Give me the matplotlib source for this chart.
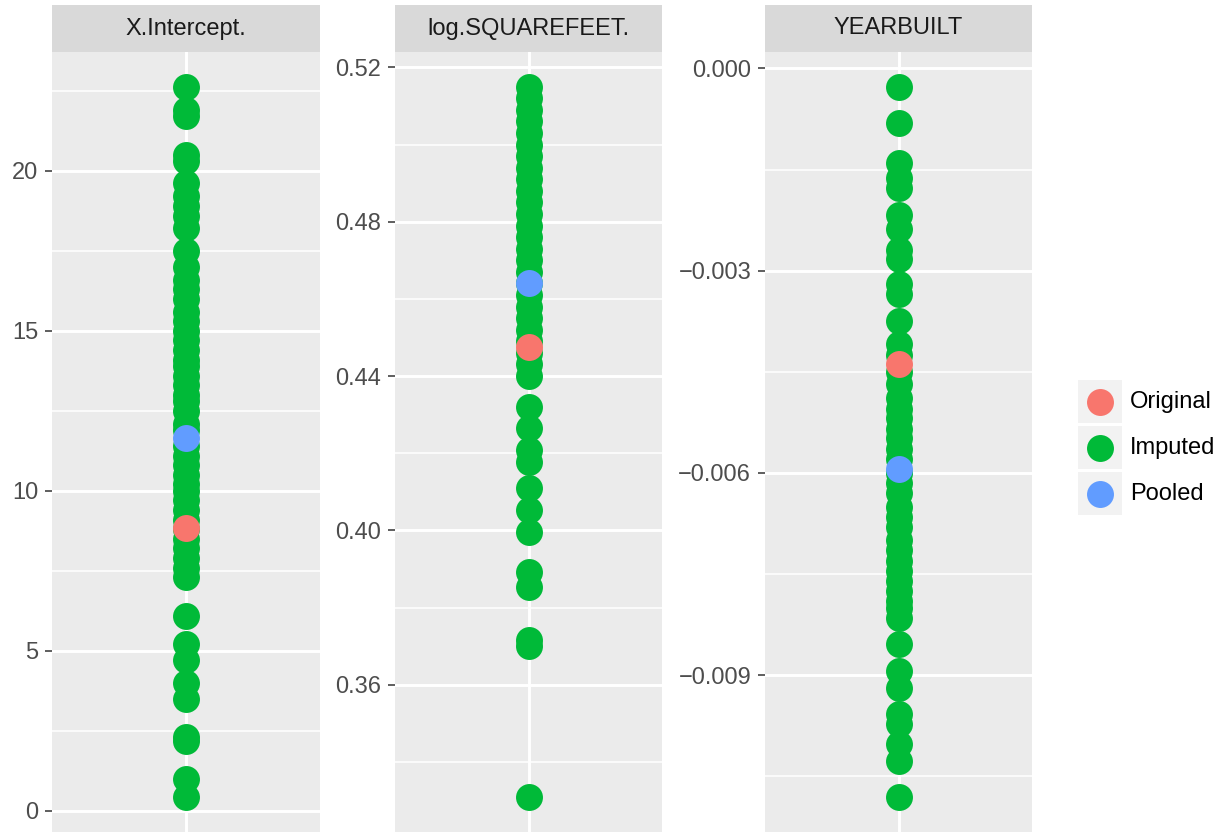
import matplotlib
matplotlib.use("Agg")
import matplotlib.pyplot as plt
from matplotlib.patches import Rectangle

plt.rcParams['font.family'] = ['Liberation Sans', 'DejaVu Sans']

# Coefficient estimates per term
panel_titles = ["X.Intercept.", "log.SQUAREFEET.", "YEARBUILT"]

intercept_imputed = [22.6, 21.9, 21.7, 20.5, 20.3, 19.6, 19.2, 18.9, 18.6, 18.2,
                     17.5, 17.0, 16.6, 16.3, 16.0, 15.6, 15.3, 15.0, 14.7, 14.4,
                     14.1, 13.9, 13.6, 13.3, 13.0, 12.8, 12.5, 12.1, 11.9, 11.4,
                     11.1, 10.8, 10.5, 10.2, 10.0, 9.7, 9.4, 9.1, 8.8, 8.5,
                     8.2, 7.9, 7.6, 7.3, 6.1, 5.2, 4.7, 4.0, 3.5, 2.3,
                     2.2, 1.0, 0.45]
intercept_original = 8.84
intercept_pooled = 11.65

sqft_imputed = [0.5148, 0.512, 0.509, 0.506, 0.503, 0.500, 0.497, 0.494, 0.491,
                0.488, 0.485, 0.482, 0.479, 0.476, 0.473, 0.470, 0.467, 0.464,
                0.461, 0.458, 0.455, 0.452, 0.449, 0.446, 0.443, 0.4399, 0.432,
                0.4266, 0.4209, 0.4176, 0.4111, 0.4054, 0.3997, 0.3893, 0.3854,
                0.3715, 0.3700, 0.331]
sqft_original = 0.4474
sqft_pooled = 0.4640

year_imputed = [-0.000282, -0.000802, -0.00140, -0.00162, -0.00178, -0.00218,
                -0.00238, -0.00270, -0.00282, -0.00319, -0.00334, -0.00374,
                -0.00408, -0.00425, -0.00450, -0.00468, -0.00489, -0.00505,
                -0.00518, -0.00535, -0.00548, -0.00565, -0.00580, -0.00600,
                -0.00615, -0.00630, -0.00650, -0.00665, -0.00680, -0.00700,
                -0.00715, -0.00730, -0.00745, -0.00760, -0.00775, -0.00790,
                -0.00800, -0.00815, -0.00854, -0.00894, -0.00919, -0.00958,
                -0.00973, -0.01002, -0.01028, -0.0108]
year_original = -0.00438
year_pooled = -0.00594

major_ticks = [[0, 5, 10, 15, 20],
               [0.36, 0.40, 0.44, 0.48, 0.52],
               [-0.009, -0.006, -0.003, 0.000]]
tick_labels = [["0", "5", "10", "15", "20"],
               ["0.36", "0.40", "0.44", "0.48", "0.52"],
               ["\u22120.009", "\u22120.006", "\u22120.003", "0.000"]]
minor_ticks = [[2.5, 7.5, 12.5, 17.5, 22.5],
               [0.34, 0.38, 0.42, 0.46, 0.50],
               [-0.0105, -0.0075, -0.0045, -0.0015]]

legend_labels = ["Original", "Imputed", "Pooled"]
colors = {"Original": "#F8766D", "Imputed": "#00BA38", "Pooled": "#619CFF"}

series = [(intercept_imputed, intercept_original, intercept_pooled),
          (sqft_imputed, sqft_original, sqft_pooled),
          (year_imputed, year_original, year_pooled)]

W, H = 1222, 832
fig = plt.figure(figsize=(W / 100, H / 100), dpi=100)
fig.patch.set_facecolor("white")


def px_axes(x0, y0, x1, y1):
    return fig.add_axes([x0 / W, 1 - y1 / H, (x1 - x0) / W, (y1 - y0) / H])


panel_x = [(52, 320), (395, 662), (765, 1032)]
PT_S = 19.4 ** 2
FS = 17
text_col = "#4D4D4D"

for i, (x0, x1) in enumerate(panel_x):
    ax = px_axes(x0, 52, x1, 832)
    ax.set_facecolor("#EBEBEB")
    imputed, orig, pooled = series[i]
    ax.scatter([1] * len(imputed), imputed, s=PT_S, color=colors["Imputed"],
               linewidths=0, zorder=3)
    ax.scatter([1], [orig], s=PT_S, color=colors["Original"], linewidths=0, zorder=4)
    ax.scatter([1], [pooled], s=PT_S, color=colors["Pooled"], linewidths=0, zorder=5)

    allv = imputed + [orig, pooled]
    lo, hi = min(allv), max(allv)
    pad = 0.05 * (hi - lo)
    ax.set_ylim(lo - pad, hi + pad)
    ax.set_xlim(0.4, 1.6)

    ax.set_yticks(major_ticks[i])
    ax.set_yticklabels(tick_labels[i])
    ax.set_yticks(minor_ticks[i], minor=True)
    ax.set_xticks([1])
    ax.set_xticklabels([])

    ax.grid(True, which="major", axis="both", color="white", linewidth=2.1, zorder=1)
    ax.grid(True, which="minor", axis="y", color="white", linewidth=1.1, zorder=1)
    ax.set_axisbelow(True)
    for sp in ax.spines.values():
        sp.set_visible(False)
    ax.tick_params(axis="y", which="major", length=5, width=1.1, color="#333333",
                   labelsize=FS, labelcolor=text_col, pad=5)
    ax.tick_params(axis="y", which="minor", length=0)
    ax.tick_params(axis="x", which="both", length=0, labelbottom=False)

    # facet strip
    sax = px_axes(x0, 5, x1, 52)
    sax.set_facecolor("#D9D9D9")
    sax.set_xticks([])
    sax.set_yticks([])
    for sp in sax.spines.values():
        sp.set_visible(False)
    sax.text(0.5, 0.5, panel_titles[i], ha="center", va="center",
             fontsize=FS, color="#1A1A1A", transform=sax.transAxes)

# legend
lax = px_axes(1078, 380, 1220, 516)
lax.set_xlim(1078, 1220)
lax.set_ylim(516, 380)
lax.axis("off")
key_tops = [380, 426, 472]
for lab, top in zip(legend_labels, key_tops):
    lax.add_patch(Rectangle((1078, top), 44, 43, facecolor="#F2F2F2",
                            edgecolor="none"))
    lax.scatter([1100], [top + 21.5], s=PT_S, color=colors[lab], linewidths=0)
    lax.text(1130, top + 21.5, lab, ha="left", va="center", fontsize=FS,
             color="black")

fig.savefig("out.png", dpi=100)
